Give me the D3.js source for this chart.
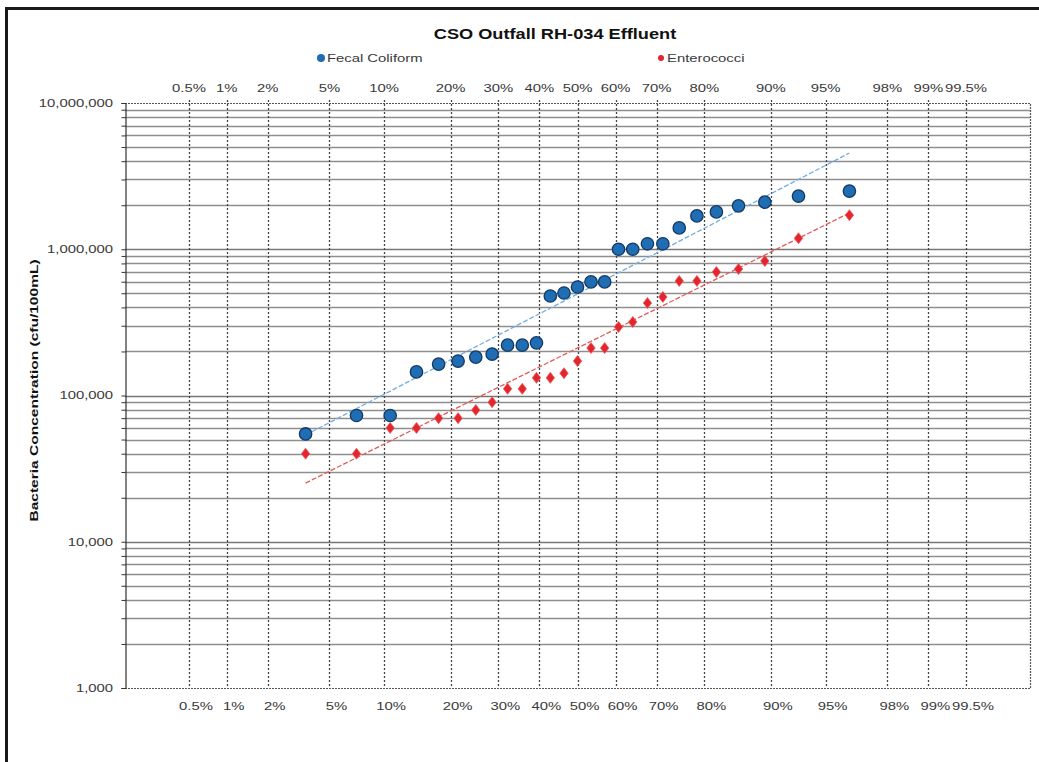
<!DOCTYPE html>
<html>
<head>
<meta charset="utf-8">
<script src="https://cdn.jsdelivr.net/npm/d3@7/dist/d3.min.js"></script>
<style>
  html, body { margin: 0; padding: 0; background: #fff; }
  svg { display: block; }
  text { font-family: "Liberation Sans", Arial, sans-serif; }
</style>
</head>
<body>
<svg id="chart" width="1039" height="762"></svg>
<script>
// ---------------- data ----------------
const chartTitle = "CSO Outfall RH-034 Effluent";
const seriesNames = ["Fecal Coliform", "Enterococci"];
// sorted sample values (cfu/100mL), plotted at Weibull positions i/(n+1)
const fecalColiform = [54600, 73000, 73000, 145000, 164000, 172000, 183000, 192000, 221000, 221000, 229000,
  479000, 502000, 552000, 598000, 598000, 1000000, 1000000, 1090000, 1090000, 1400000, 1690000, 1800000,
  1980000, 2100000, 2310000, 2500000];
const enterococci = [40000, 40000, 60000, 60000, 70000, 70000, 79600, 90000, 111000, 111000, 132000, 132000,
  142000, 172000, 211000, 211000, 294000, 318000, 429000, 472000, 607000, 607000, 699000, 733000, 831000,
  1190000, 1710000];
// fitted lognormal trend lines (values at first and last plotting position)
const fecalTrend = [53700, 4550000];
const enteroTrend = [25200, 1770000];
const probTicks = [0.005, 0.01, 0.02, 0.05, 0.1, 0.2, 0.3, 0.4, 0.5, 0.6, 0.7, 0.8, 0.9, 0.95, 0.98, 0.99, 0.995];
const probLabels = ["0.5%", "1%", "2%", "5%", "10%", "20%", "30%", "40%", "50%", "60%", "70%", "80%", "90%", "95%", "98%", "99%", "99.5%"];
const yMajor = [1000, 10000, 100000, 1000000, 10000000];
const yTitle = "Bacteria Concentration (cfu/100mL)";

// ---------------- helpers ----------------
function probit(p) {
  const a = [-3.969683028665376e+01, 2.209460984245205e+02, -2.759285104469687e+02, 1.383577518672690e+02, -3.066479806614716e+01, 2.506628277459239e+00];
  const b = [-5.447609879822406e+01, 1.615858368580409e+02, -1.556989798598866e+02, 6.680131188771972e+01, -1.328068155288572e+01];
  const c = [-7.784894002430293e-03, -3.223964580411365e-01, -2.400758277161838e+00, -2.549732539343734e+00, 4.374664141464968e+00, 2.938163982698783e+00];
  const d = [7.784695709041462e-03, 3.224671290700398e-01, 2.445134137142996e+00, 3.754408661907416e+00];
  const pl = 0.02425, ph = 1 - pl;
  let q, r;
  if (p < pl) { q = Math.sqrt(-2 * Math.log(p));
    return (((((c[0]*q+c[1])*q+c[2])*q+c[3])*q+c[4])*q+c[5]) / ((((d[0]*q+d[1])*q+d[2])*q+d[3])*q+1); }
  if (p <= ph) { q = p - 0.5; r = q*q;
    return (((((a[0]*r+a[1])*r+a[2])*r+a[3])*r+a[4])*r+a[5])*q / (((((b[0]*r+b[1])*r+b[2])*r+b[3])*r+b[4])*r+1); }
  q = Math.sqrt(-2 * Math.log(1 - p));
  return -(((((c[0]*q+c[1])*q+c[2])*q+c[3])*q+c[4])*q+c[5]) / ((((d[0]*q+d[1])*q+d[2])*q+d[3])*q+1);
}
const SX = 1.35;
function label(g, x, y, str, opts = {}) {
  const t = g.append("text")
    .attr("transform", `translate(${x},${y}) scale(${opts.sx || SX},1)`)
    .attr("text-anchor", opts.anchor || "middle")
    .attr("font-size", opts.size || 11)
    .attr("font-weight", opts.weight || "normal")
    .attr("fill", opts.fill || "#3a3a3a")
    .text(str);
  if (opts.dy) t.attr("dy", opts.dy);
  return t;
}

// ---------------- layout ----------------
const svg = d3.select("#chart");
const L = 125, R = 1030, T = 103, B = 688;
const x = d3.scaleLinear().domain([-3, 3]).range([L, R]);
const y = d3.scaleLog().domain([1000, 10000000]).range([B, T]);

// frame
svg.append("line").attr("x1", 6.5).attr("x2", 6.5).attr("y1", 7).attr("y2", 762).attr("stroke", "#1a1a1a").attr("stroke-width", 3);
svg.append("line").attr("x1", 5).attr("x2", 1039).attr("y1", 8.5).attr("y2", 8.5).attr("stroke", "#1a1a1a").attr("stroke-width", 3);

// horizontal gridlines at every log tick
const yTicksAll = [];
for (let e = 3; e < 7; e++) for (let m = 1; m <= 9; m++) yTicksAll.push(m * Math.pow(10, e));
yTicksAll.push(1e7);
svg.append("g").selectAll("line").data(yTicksAll.filter(v => v > 1000 && v < 1e7)).join("line")
  .attr("x1", L).attr("x2", R)
  .attr("y1", d => Math.round(y(d)) + 0.5).attr("y2", d => Math.round(y(d)) + 0.5)
  .attr("stroke", d => yMajor.includes(d) ? "#777" : "#8e8e8e").attr("stroke-width", 1.3);

// vertical dashed gridlines
svg.append("g").selectAll("line").data(probTicks).join("line")
  .attr("x1", d => Math.round(x(probit(d))) + 0.5).attr("x2", d => Math.round(x(probit(d))) + 0.5)
  .attr("y1", T - 3).attr("y2", B)
  .attr("stroke", "#444").attr("stroke-width", 1.3).attr("stroke-dasharray", "2,2");

// dashed border top / right / bottom
svg.append("path")
  .attr("d", `M${L},${T + 0.5}H${R + 0.5}V${B + 0.5}H${L}`)
  .attr("fill", "none").attr("stroke", "#555").attr("stroke-width", 1.2).attr("stroke-dasharray", "2,1");

// left axis
const yAxis = d3.axisLeft(y).tickValues(yTicksAll).tickSize(4)
  .tickFormat(d => yMajor.includes(d) ? d3.format(",")(d) : "");
const ga = svg.append("g").attr("transform", `translate(${L + 0.5},0)`).call(yAxis);
ga.select(".domain").attr("stroke", "#333").attr("stroke-width", 1.2);
ga.selectAll(".tick line").attr("stroke", "#333");
ga.selectAll(".tick text").remove();
yMajor.forEach(v => label(svg, L - 12, y(v), d3.format(",")(v), { anchor: "end", dy: "0.35em", size: 11 }));

// top and bottom probability labels
probTicks.forEach((p, i) => {
  label(svg, x(probit(p)), 92, probLabels[i], { size: 11 });
  label(svg, x(probit(p)) + 7, 710, probLabels[i], { size: 11 });
});

// title and axis title
label(svg, 555, 39, chartTitle, { size: 14, weight: "bold", fill: "#111", sx: 1.3 });
svg.append("text")
  .attr("transform", `translate(38,${(T + B) / 2 - 5}) rotate(-90) scale(${SX},1)`)
  .attr("text-anchor", "middle").attr("font-size", 11.5).attr("font-weight", "bold").attr("fill", "#111")
  .text(yTitle);

// legend
svg.append("circle").attr("cx", 321).attr("cy", 58).attr("r", 4).attr("fill", "#1f6db5");
label(svg, 327, 62, seriesNames[0], { anchor: "start", size: 11 });
svg.append("circle").attr("cx", 661).attr("cy", 58).attr("r", 3).attr("fill", "#e3262d");
label(svg, 667, 62, seriesNames[1], { anchor: "start", size: 11 });

// plotting positions
const n = fecalColiform.length;
const pos = d3.range(1, n + 1).map(i => i / (n + 1));
const trendP = [pos[0], pos[n - 1]];
const line = d3.line().x(d => x(probit(d[0]))).y(d => y(d[1]));

// trend lines
svg.append("path").datum(trendP.map((p, i) => [p, fecalTrend[i]])).attr("d", line)
  .attr("fill", "none").attr("stroke", "#74aee0").attr("stroke-width", 1.3).attr("stroke-dasharray", "5,2");
svg.append("path").datum(trendP.map((p, i) => [p, enteroTrend[i]])).attr("d", line)
  .attr("fill", "none").attr("stroke", "#e35a5a").attr("stroke-width", 1.3).attr("stroke-dasharray", "5,2");

// markers
svg.append("g").selectAll("circle").data(fecalColiform).join("circle")
  .attr("cx", (d, i) => x(probit(pos[i]))).attr("cy", d => y(d)).attr("r", 6.2)
  .attr("fill", "#1f6db5").attr("stroke", "#143a62").attr("stroke-width", 1.3);
const diamond = "M0,-5.5L4.2,0L0,5.5L-4.2,0Z";
svg.append("g").selectAll("path").data(enterococci).join("path")
  .attr("transform", (d, i) => `translate(${x(probit(pos[i]))},${y(d)})`)
  .attr("d", diamond).attr("fill", "#e3262d").attr("stroke", "#ef5a5e").attr("stroke-width", 0.8);
</script>
</body>
</html>
